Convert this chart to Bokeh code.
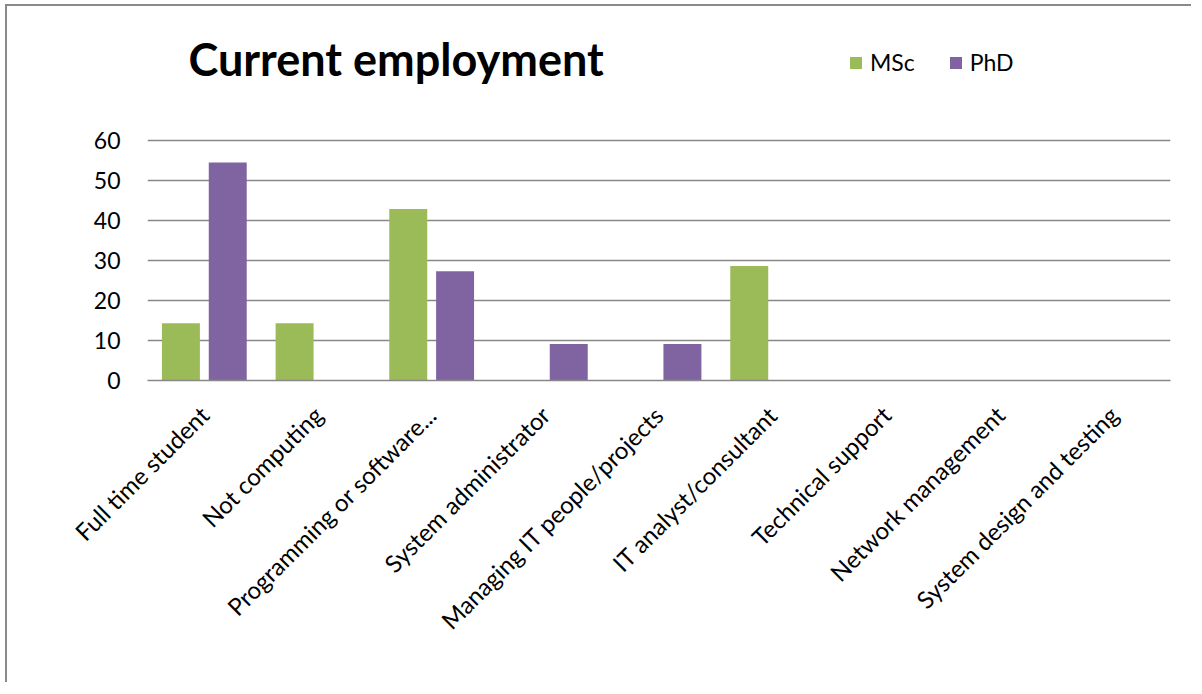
import math
from bokeh.plotting import figure
from bokeh.models import (ColumnDataSource, FactorRange, Range1d, Label, Legend,
                          LegendItem)
from bokeh.transform import dodge
from bokeh.embed import file_html
from bokeh.resources import INLINE

categories = ["Full time student", "Not computing", "Programming or software...",
              "System administrator", "Managing IT people/projects",
              "IT analyst/consultant", "Technical support", "Network management",
              "System design and testing"]
msc = [14.3, 14.3, 42.9, 0, 0, 28.6, 0, 0, 0]
phd = [54.5, 0, 27.3, 9.1, 9.1, 0, 0, 0, 0]
series_names = ["MSc", "PhD"]
y_ticks = [0, 10, 20, 30, 40, 50, 60]

GREEN = "#9BBB59"
PURPLE = "#8064A2"
GRID = "#888888"
FONT = "Lato"

src = ColumnDataSource(dict(cat=categories, msc=msc, phd=phd))

# frame extends up to the top so that title and legend (drawn inside it) are not clipped
p = figure(width=1186, height=678, output_backend="svg", toolbar_location=None,
           x_range=FactorRange(*categories, range_padding=0),
           y_range=Range1d(0, 91),
           min_border_left=140, min_border_right=23,
           min_border_top=10, min_border_bottom=304)
p.styles = {"border-left": "2px solid #8a8a8a", "border-top": "2px solid #8a8a8a",
            "margin-left": "5px", "margin-top": "4px"}

r1 = p.vbar(x=dodge("cat", -0.206, range=p.x_range), top="msc", width=0.334,
            source=src, fill_color=GREEN, line_color=None)
r2 = p.vbar(x=dodge("cat", 0.206, range=p.x_range), top="phd", width=0.334,
            source=src, fill_color=PURPLE, line_color=None)

p.outline_line_color = None
p.xgrid.grid_line_color = None
p.ygrid.grid_line_color = GRID
p.ygrid.grid_line_width = 1.6
p.yaxis.ticker = y_ticks
p.yaxis.axis_line_color = None
p.yaxis.major_tick_line_color = None
p.yaxis.minor_tick_line_color = None
p.yaxis.major_label_text_font = FONT
p.yaxis.major_label_text_font_size = "23px"
p.yaxis.major_label_text_color = "#000000"
p.yaxis.major_label_standoff = 21

p.xaxis.axis_line_color = GRID
p.xaxis.axis_line_width = 1.6
p.xaxis.major_tick_line_color = None
p.xaxis.minor_tick_line_color = None
p.xaxis.major_label_orientation = math.pi / 4
p.xaxis.major_label_text_font = FONT
p.xaxis.major_label_text_font_size = "24px"
p.xaxis.major_label_text_color = "#000000"
p.xaxis.major_label_standoff = 24

title = Label(x=41, y=322, x_units="screen", y_units="screen",
              text="Current employment", text_font=FONT, text_font_style="bold",
              text_font_size="45px", text_color="#000000",
              text_baseline="alphabetic")
p.add_layout(title)

legend = Legend(items=[LegendItem(label=series_names[0], renderers=[r1]),
                       LegendItem(label=series_names[1], renderers=[r2])],
                orientation="horizontal", location=(701, 304),
                glyph_width=15, glyph_height=15, label_standoff=7, spacing=33,
                padding=0, margin=0, border_line_color=None,
                background_fill_alpha=0, label_text_font=FONT,
                label_text_font_size="23px", label_text_color="#000000")
p.add_layout(legend, "center")

open("out.html", "w").write(file_html(p, INLINE))
